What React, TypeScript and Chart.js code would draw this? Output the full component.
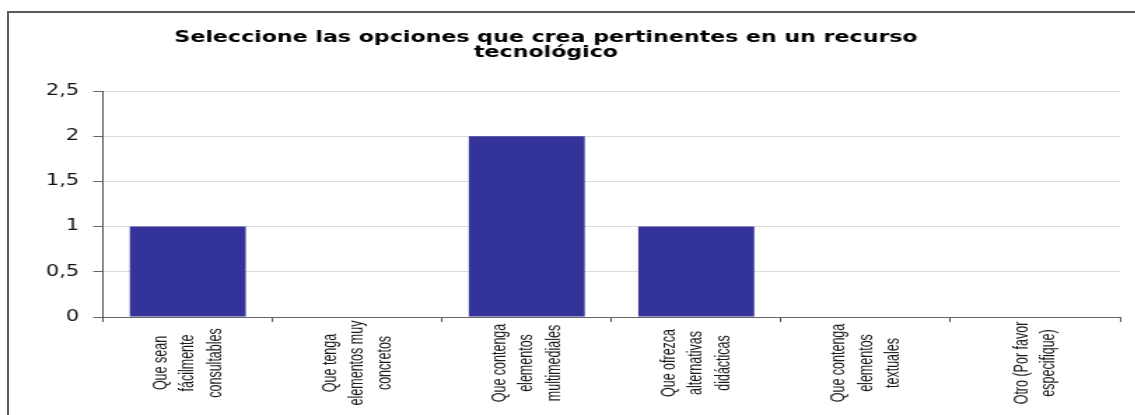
import React, { useEffect, useRef } from "react";
import { Chart, registerables } from "chart.js";

Chart.register(...registerables);

// ---- data ----
const TITLE_LINES = [
  "Seleccione las opciones que crea pertinentes en un recurso",
  "tecnológico",
];

const CATEGORIES: string[][] = [
  ["Que sean", "fácilmente", "consultables"],
  ["Que tenga", "elementos muy", "concretos"],
  ["Que contenga", "elementos", "multimediales"],
  ["Que ofrezca", "alternativas", "didácticas"],
  ["Que contenga", "elementos", "textuales"],
  ["Otro (Por favor", "especifique)"],
];

const VALUES = [1, 0, 2, 1, 0, 0];

const Y_MIN = 0;
const Y_MAX = 2.5;
const Y_STEP = 0.5;

// ---- layout (horizontal stretch of the whole picture) ----
const SX = 1.4;
const CANVAS_W = 840;
const CANVAS_H = 415;
const OFFSET_X = -20; // unscaled
const CLIP_W = 823; // unscaled visible width of the canvas

const LABEL_FONT = '"Liberation Sans", Arial, sans-serif';
const LABEL_SIZE = 12.5;
const LABEL_PITCH = 19.6;
const LABEL_THICKEN = 1.2;

const labelsPlugin = {
  id: "rotatedCenteredLabels",
  afterDraw(chart: any) {
    const ctx = chart.ctx as CanvasRenderingContext2D;
    const xScale = chart.scales.x;
    const labels = chart.data.labels as string[][];
    const cy = chart.chartArea.bottom + 46;
    ctx.save();
    ctx.fillStyle = "#1a1a1a";
    ctx.font = `${LABEL_SIZE}px ${LABEL_FONT}`;
    ctx.textAlign = "center";
    ctx.textBaseline = "middle";
    labels.forEach((lines, i) => {
      const x = xScale.getPixelForValue(i);
      ctx.save();
      ctx.translate(x, cy);
      ctx.rotate(-Math.PI / 2);
      ctx.scale(1, LABEL_THICKEN);
      const n = lines.length;
      lines.forEach((line, j) => {
        ctx.fillText(line, 0, ((j - (n - 1) / 2) * LABEL_PITCH) / LABEL_THICKEN);
      });
      ctx.restore();
    });
    ctx.restore();
  },
};

export default function App() {
  const canvasRef = useRef<HTMLCanvasElement | null>(null);

  useEffect(() => {
    if (!canvasRef.current) return;
    const chart = new Chart(canvasRef.current, {
      type: "bar",
      data: {
        labels: CATEGORIES,
        datasets: [
          {
            data: VALUES,
            backgroundColor: "#333399",
            borderWidth: 0,
            barPercentage: 0.684,
            categoryPercentage: 1,
          },
        ],
      },
      plugins: [labelsPlugin],
      options: {
        responsive: false,
        animation: false,
        devicePixelRatio: 1,
        layout: { padding: { left: 0, right: 20, top: 0, bottom: 0 } },
        plugins: {
          legend: { display: false },
          tooltip: { enabled: false },
          title: {
            display: true,
            text: TITLE_LINES,
            color: "#000",
            font: {
              family: '"DejaVu Sans", Verdana, sans-serif',
              size: 15.8,
              weight: "bold",
              lineHeight: 0.95,
            },
            padding: { top: 30, bottom: 31 },
          },
        },
        scales: {
          x: {
            type: "category",
            offset: true,
            afterFit: (s: any) => {
              s.height = 98;
            },
            grid: {
              display: true,
              drawOnChartArea: false,
              drawTicks: true,
              tickLength: 5,
              tickColor: "#555",
              offset: true,
            },
            border: { display: true, color: "#666", width: 1 },
            ticks: { display: false },
          },
          y: {
            min: Y_MIN,
            max: Y_MAX,
            afterFit: (s: any) => {
              s.width = 93.6;
            },
            ticks: {
              stepSize: Y_STEP,
              color: "#111",
              padding: 10,
              font: { family: '"DejaVu Sans", Verdana, sans-serif', size: 15 },
              callback: (v: any) => String(v).replace(".", ","),
            },
            grid: {
              color: "#dcdcdc",
              tickColor: "#666",
              tickLength: 7,
            },
            border: { display: true, color: "#555", width: 1 },
          },
        },
      },
    });
    return () => chart.destroy();
  }, []);

  return (
    <div
      style={{
        position: "fixed",
        left: 0,
        top: 0,
        width: 1135,
        height: 415,
        overflow: "hidden",
        background: "#fff",
      }}
    >
      <div
        style={{
          position: "absolute",
          left: OFFSET_X * SX,
          top: 0,
          width: CLIP_W,
          height: CANVAS_H,
          overflow: "hidden",
          transform: `scaleX(${SX})`,
          transformOrigin: "0 0",
        }}
      >
        <canvas
          ref={canvasRef}
          width={CANVAS_W}
          height={CANVAS_H}
          style={{ width: CANVAS_W, height: CANVAS_H, display: "block" }}
        />
      </div>
      <div
        style={{
          position: "absolute",
          left: 7,
          top: 11,
          width: 2,
          height: 404,
          background: "#5a5a5a",
        }}
      />
      <div
        style={{
          position: "absolute",
          left: 7,
          top: 11,
          width: 1128,
          height: 2,
          background: "#5a5a5a",
        }}
      />
    </div>
  );
}
